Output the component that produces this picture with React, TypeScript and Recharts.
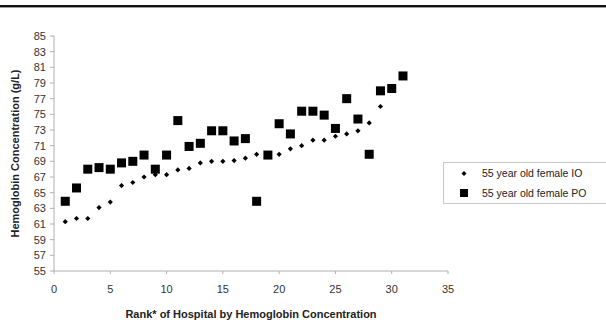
import React from 'react';
import { ScatterChart, Scatter, XAxis, YAxis, Legend } from 'recharts';

const hospitalRank = [1, 2, 3, 4, 5, 6, 7, 8, 9, 10, 11, 12, 13, 14, 15, 16, 17, 18, 19, 20, 21, 22, 23, 24, 25, 26, 27, 28, 29, 30, 31];
const femaleIO = [61.3, 61.7, 61.7, 63.1, 63.8, 65.9, 66.3, 67.0, 67.3, 67.3, 67.9, 68.1, 68.8, 69.0, 69.0, 69.1, 69.4, 69.9, 69.8, 69.9, 70.6, 71.0, 71.7, 71.7, 72.2, 72.5, 72.9, 73.9, 76.0, 78.2, 79.9];
const femalePO = [63.9, 65.6, 68.0, 68.2, 68.0, 68.8, 69.0, 69.8, 68.0, 69.8, 74.2, 70.9, 71.3, 72.9, 72.9, 71.6, 71.9, 63.9, 69.8, 73.8, 72.5, 75.4, 75.4, 74.9, 73.2, 77.0, 74.4, 69.9, 78.0, 78.3, 79.9];
const xTicks = [0, 5, 10, 15, 20, 25, 30, 35];
const yTicks = [55, 57, 59, 61, 63, 65, 67, 69, 71, 73, 75, 77, 79, 81, 83, 85];
const seriesNames = ['55 year old female IO', '55 year old female PO'];

const ioData = hospitalRank.map((r, i) => ({ rank: r, hb: femaleIO[i] }));
const poData = hospitalRank.map((r, i) => ({ rank: r, hb: femalePO[i] }));

const FONT = '"Liberation Sans", Arial, sans-serif';

const Diamond = (props: any) => {
  const { cx, cy } = props;
  const r = 2.6;
  return <polygon points={`${cx},${cy - r} ${cx + r},${cy} ${cx},${cy + r} ${cx - r},${cy}`} fill="#000" />;
};

const Square = (props: any) => {
  const { cx, cy } = props;
  const s = 9;
  return <rect x={cx - s / 2} y={cy - s / 2} width={s} height={s} fill="#000" />;
};

const LegendBox = () => (
  <div
    style={{
      border: '1px solid #c8c8c8',
      width: 200,
      height: 42,
      boxSizing: 'border-box',
      fontFamily: FONT,
      fontSize: 10.5,
      color: '#222',
      position: 'relative',
      background: '#fff',
    }}
  >
    <svg width={14} height={42} style={{ position: 'absolute', left: 14, top: 0 }}>
      <polygon points="6,8 8.5,10.5 6,13 3.5,10.5" fill="#000" />
      <rect x={2} y={26} width={8} height={8} fill="#000" />
    </svg>
    <div style={{ position: 'absolute', left: 38, top: 4, whiteSpace: 'nowrap' }}>{seriesNames[0]}</div>
    <div style={{ position: 'absolute', left: 38, top: 24, whiteSpace: 'nowrap' }}>{seriesNames[1]}</div>
  </div>
);

export default function App() {
  return (
    <div style={{ position: 'absolute', left: 0, top: 0, width: 606, height: 326, background: '#fff', overflow: 'hidden' }}>
      <div style={{ position: 'absolute', left: 0, top: 5, width: 606, height: 2, background: '#111' }} />
      <div style={{ position: 'absolute', left: 0, top: 7, width: 606, height: 1, background: '#999' }} />
      <ScatterChart width={606} height={326} margin={{ top: 36, right: 158, bottom: 0, left: 0 }}>
        <XAxis
          type="number"
          dataKey="rank"
          domain={[0, 35]}
          ticks={xTicks}
          height={55}
          axisLine={{ stroke: '#b0b0b0' }}
          tickLine={{ stroke: '#b0b0b0' }}
          tickSize={3}
          tickMargin={11}
          tick={{ fill: '#333', fontSize: 11, fontFamily: FONT }}
          label={{
            value: 'Rank* of Hospital by Hemoglobin Concentration',
            position: 'insideBottom',
            offset: 8,
            style: { fontFamily: FONT, fontSize: 11, fontWeight: 'bold', fill: '#222' },
          }}
        />
        <YAxis
          type="number"
          dataKey="hb"
          domain={[55, 85]}
          ticks={yTicks}
          width={54}
          interval={0}
          axisLine={{ stroke: '#b0b0b0' }}
          tickLine={{ stroke: '#b0b0b0' }}
          tickSize={4}
          tickMargin={4}
          tick={{ fill: '#333', fontSize: 11, fontFamily: FONT }}
          label={{
            value: 'Hemoglobin Concentration (g/L)',
            angle: -90,
            position: 'insideLeft',
            offset: 15,
            style: { textAnchor: 'middle', fontFamily: FONT, fontSize: 11, fontWeight: 'bold', fill: '#222' },
          }}
        />
        <Legend
          layout="vertical"
          align="center"
          verticalAlign="middle"
          content={() => <LegendBox />}
          wrapperStyle={{ position: 'absolute', left: 443, top: 162, width: 200, height: 42 }}
        />
        <Scatter name={seriesNames[0]} data={ioData} shape={Diamond} isAnimationActive={false} />
        <Scatter name={seriesNames[1]} data={poData} shape={Square} isAnimationActive={false} />
      </ScatterChart>
    </div>
  );
}
